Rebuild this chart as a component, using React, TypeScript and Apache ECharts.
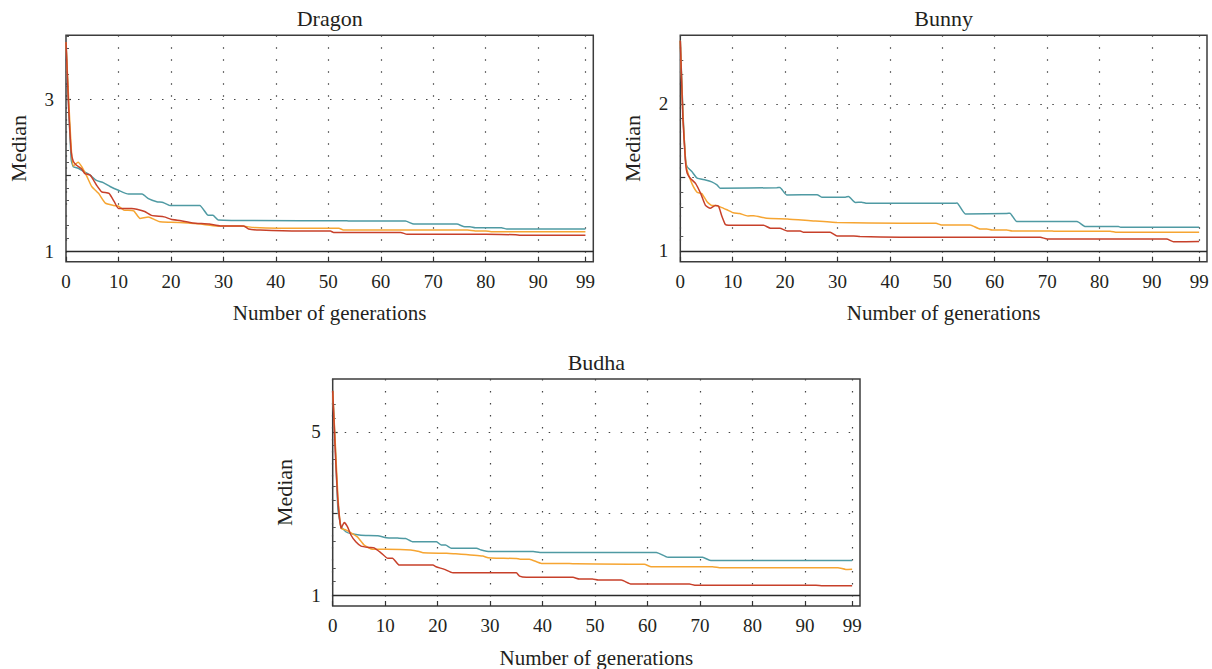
import React, { useEffect, useRef } from "react";
import * as echarts from "echarts";

// ---- tick values ----
const xTicks = [0, 10, 20, 30, 40, 50, 60, 70, 80, 90, 99];
const dragonYLabels = [1, 3];
const dragonYGrid = [2, 3];
const bunnyYLabels = [1, 2];
const bunnyYGrid = [1.5, 2];
const budhaYLabels = [1, 5];
const budhaYGrid = [3, 5];

// ---- series values: [generation, median] ----
const dragonTeal = [[0,3.75],[0.5,2.9],[1,2.2],[1.4,2.11],[2.3,2.09],[3.6,2.04],[4.6,2.0],[5.8,1.93],[7.1,1.9],[8.4,1.85],[10,1.8],[11.9,1.75],[14.5,1.75],[15.7,1.69],[17.3,1.65],[18.5,1.64],[19.8,1.6],[25.5,1.6],[27.1,1.47],[28,1.47],[29,1.41],[44.6,1.4],[53,1.4],[54,1.395],[64.7,1.395],[66.3,1.355],[74.5,1.355],[76,1.32],[77,1.32],[78,1.307],[83,1.307],[84,1.29],[99,1.29]];
const dragonRed = [[0,3.75],[0.5,2.9],[1,2.3],[1.4,2.18],[2,2.13],[3,2.08],[3.6,2.02],[4.6,2.0],[5.8,1.87],[6.8,1.78],[8.2,1.76],[9.2,1.65],[10,1.56],[12.5,1.56],[13.5,1.55],[15,1.52],[16.3,1.47],[18.7,1.45],[20,1.42],[21.9,1.4],[24.1,1.37],[27.3,1.355],[29.4,1.33],[33.9,1.33],[34.8,1.29],[37,1.276],[44.6,1.263],[50.4,1.263],[51,1.245],[63.8,1.245],[65,1.22],[80,1.22],[85.7,1.215],[86.6,1.207],[99,1.207]];
const dragonOrange = [[0,3.75],[0.5,3.0],[1,2.35],[1.4,2.12],[2.3,2.17],[3,2.11],[4,1.98],[4.9,1.85],[6.2,1.76],[7.5,1.63],[9.1,1.6],[10,1.59],[11,1.54],[12.9,1.53],[14.1,1.43],[15.7,1.45],[17,1.41],[17.9,1.385],[20,1.38],[23.2,1.37],[25.7,1.355],[28.8,1.33],[33.3,1.33],[35.8,1.31],[40.3,1.3],[52,1.3],[53,1.276],[76.5,1.276],[78,1.265],[80,1.265],[81,1.255],[99,1.255]];

const bunnyTeal = [[0,2.43],[0.5,1.95],[1,1.62],[1.3,1.573],[2.2,1.54],[3.2,1.495],[4.8,1.483],[6,1.47],[7,1.449],[7.6,1.427],[18.4,1.43],[19,1.432],[20.3,1.381],[26.1,1.383],[27,1.365],[31.5,1.366],[32.1,1.37],[33.4,1.33],[34.6,1.332],[35.6,1.324],[52.1,1.324],[52.8,1.326],[54.4,1.252],[62.3,1.255],[62.9,1.257],[64.2,1.2],[75.7,1.2],[77.3,1.166],[83.6,1.166],[84,1.161],[99,1.161]];
const bunnyRed = [[0,2.43],[0.5,1.9],[1,1.6],[1.3,1.53],[1.9,1.495],[2.9,1.46],[3.9,1.39],[4.8,1.31],[5.7,1.29],[6.7,1.31],[7.3,1.305],[7.9,1.24],[8.6,1.18],[9.2,1.175],[15.9,1.175],[17.2,1.155],[19,1.155],[20.4,1.136],[22.9,1.136],[23.5,1.127],[28.6,1.127],[29.9,1.102],[33.1,1.102],[34.3,1.098],[42,1.093],[68.7,1.093],[70,1.082],[92.8,1.082],[94.1,1.063],[99,1.064]];
const bunnyOrange = [[0,2.43],[0.5,1.92],[1,1.62],[1.3,1.55],[2.2,1.46],[3.2,1.4],[4.1,1.39],[5.1,1.335],[6,1.31],[6.7,1.31],[7.6,1.3],[8.9,1.28],[10.1,1.26],[11.3,1.255],[12.9,1.238],[14,1.24],[16.5,1.222],[20.4,1.218],[25.4,1.204],[29.9,1.193],[42,1.188],[48.8,1.188],[49.8,1.177],[55.3,1.177],[57.2,1.15],[58.5,1.15],[59.5,1.143],[62.3,1.143],[63.3,1.136],[70.6,1.136],[71.3,1.134],[82,1.134],[83.3,1.127],[99,1.127]];

const budhaTeal = [[0,6.0],[0.5,4.6],[1,3.1],[1.6,2.68],[2.5,2.555],[3.4,2.51],[5.4,2.47],[8.6,2.46],[10.2,2.41],[12.4,2.4],[13.9,2.39],[15.3,2.31],[19.8,2.31],[20.7,2.23],[21.5,2.23],[22.6,2.15],[27.4,2.15],[28.3,2.11],[29.9,2.07],[38.2,2.07],[39.5,2.05],[61.7,2.05],[63.9,1.93],[70.5,1.93],[72.1,1.85],[99,1.85]];
const budhaRed = [[0,6.0],[0.5,4.5],[1,3.3],[1.6,2.64],[2.2,2.78],[2.8,2.68],[3.5,2.47],[4.4,2.31],[5.4,2.205],[7,2.17],[7.9,2.16],[9.2,2.04],[10.5,1.905],[11.4,1.91],[12.7,1.74],[19.1,1.74],[19.7,1.7],[21.3,1.635],[22.9,1.55],[35,1.55],[35.6,1.47],[36.9,1.44],[45.8,1.44],[47,1.4],[49.5,1.4],[50.6,1.375],[55,1.375],[56.9,1.275],[68,1.275],[69,1.25],[92.1,1.25],[93.4,1.235],[99,1.235]];
const budhaOrange = [[0,6.0],[0.5,4.7],[1,3.4],[1.6,2.64],[2.5,2.6],[3.5,2.53],[4.7,2.43],[6,2.23],[7.6,2.125],[10.2,2.125],[14.9,2.11],[16.5,2.07],[17.2,2.04],[21.7,2.03],[23,2.02],[28.6,1.96],[29.6,1.92],[31.2,1.91],[35,1.9],[35.7,1.885],[37.5,1.885],[39.8,1.78],[45.1,1.78],[46.4,1.77],[59.4,1.76],[60.7,1.7],[72.4,1.7],[74,1.675],[96.3,1.675],[97.8,1.635],[99,1.64]];

const FONT = "'Liberation Serif', 'DejaVu Serif', serif";
const TEXT = "#231f20";
const TEAL = "#4f9aa3";
const RED = "#c7402a";
const ORANGE = "#f6a532";

const panels = [
  { title: "Dragon", grid: { left: 66, top: 35.3, width: 527.3, height: 226.4 }, yMin: 0.86, yMax: 3.84, yLabels: dragonYLabels, yGrid: dragonYGrid, minorSplit: 3, lines: [dragonTeal, dragonOrange, dragonRed] },
  { title: "Bunny", grid: { left: 680.3, top: 35.3, width: 526.7, height: 226.4 }, yMin: 0.927, yMax: 2.467, yLabels: bunnyYLabels, yGrid: bunnyYGrid, minorSplit: 3, lines: [bunnyTeal, bunnyOrange, bunnyRed] },
  { title: "Budha", grid: { left: 332.7, top: 379, width: 527.3, height: 227 }, yMin: 0.74, yMax: 6.29, yLabels: budhaYLabels, yGrid: budhaYGrid, minorSplit: 3, lines: [budhaTeal, budhaOrange, budhaRed] },
];
const lineColors = [TEAL, ORANGE, RED];

export default function App() {
  const ref = useRef<HTMLDivElement>(null);
  useEffect(() => {
    document.body.style.margin = "0";
    if (!ref.current) return;
    const chart = echarts.init(ref.current, undefined, { renderer: "svg" });
    const grids: any[] = [];
    const xAxes: any[] = [];
    const yAxes: any[] = [];
    const series: any[] = [];
    const graphics: any[] = [];
    panels.forEach((p, i) => {
      grids.push({ ...p.grid, show: true, borderColor: "#3c3c3c", borderWidth: 1.5, containLabel: false });
      xAxes.push({
        type: "value", gridIndex: i, min: 0, max: 100.5,
        axisLine: { show: false },
        axisTick: { show: true, inside: true, length: 5, customValues: xTicks, lineStyle: { color: "#333", width: 1.2 } },
        axisLabel: { customValues: xTicks, fontSize: 19, fontFamily: FONT, fontWeight: "normal", color: TEXT, margin: 10 },
        splitLine: { show: true, lineStyle: { type: [1.5, 10.5], color: "#444", width: 1.2 } },
        name: "Number of generations", nameLocation: "middle", nameGap: 41,
        nameTextStyle: { fontSize: 21, fontFamily: FONT, fontWeight: "normal", color: TEXT },
      });
      yAxes.push({
        type: "value", gridIndex: i, min: p.yMin, max: p.yMax,
        axisLine: { show: false },
        axisTick: { show: true, inside: true, length: 5, customValues: p.yGrid, lineStyle: { color: "#333", width: 1.2 } },
        minorTick: { show: true, splitNumber: p.minorSplit, length: 3, lineStyle: { color: "#555", width: 1 } },
        axisLabel: { customValues: p.yLabels, fontSize: 19, fontFamily: FONT, fontWeight: "normal", color: TEXT, margin: 12 },
        splitLine: { show: true, lineStyle: { type: [1.5, 10.5], color: "#444", width: 1.2 } },
        name: "Median", nameLocation: "middle", nameGap: 37,
        nameTextStyle: { fontSize: 22, fontFamily: FONT, fontWeight: "normal", color: TEXT },
      });
      p.lines.forEach((d, k) => {
        series.push({
          type: "line", xAxisIndex: i, yAxisIndex: i, data: d, showSymbol: false, symbol: "none",
          lineStyle: { color: lineColors[k], width: 1.5 }, itemStyle: { color: lineColors[k] },
          smooth: 0.15, silent: true, z: 3 + k,
          markLine: k === 0 ? {
            silent: true, symbol: "none", label: { show: false },
            lineStyle: { color: "#2a2a2a", type: "solid", width: 1.3 },
            data: [{ yAxis: 1 }],
          } : undefined,
        });
      });
      graphics.push({
        type: "text", x: p.grid.left + p.grid.width / 2, y: p.grid.top - 17,
        style: { text: p.title, fill: TEXT, fontSize: 22, fontFamily: FONT, fontWeight: "normal", align: "center", verticalAlign: "middle", textAlign: "center", textVerticalAlign: "middle" },
      });
    });
    chart.setOption({
      animation: false,
      backgroundColor: "#ffffff",
      grid: grids, xAxis: xAxes, yAxis: yAxes, series, graphic: graphics,
    });
    return () => chart.dispose();
  }, []);
  return <div ref={ref} style={{ width: 1212, height: 669 }} />;
}
